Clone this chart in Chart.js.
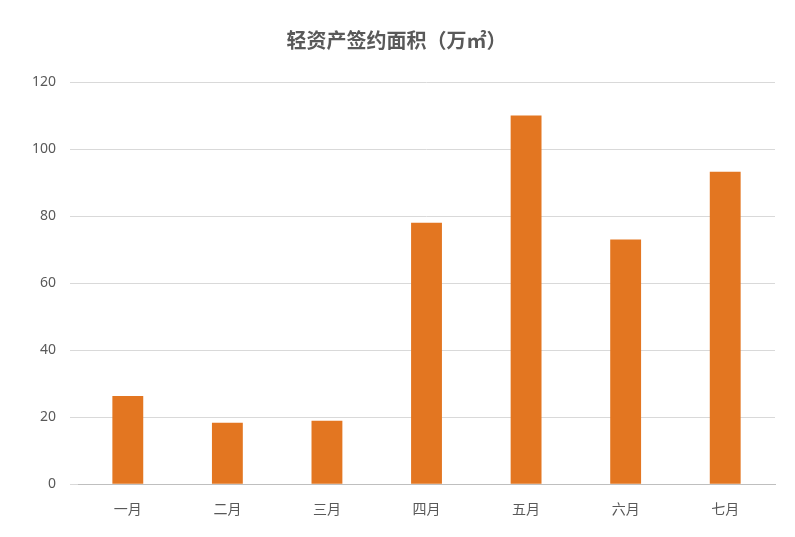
<!DOCTYPE html>
<html><head><meta charset="utf-8">
<script src="https://cdn.jsdelivr.net/npm/chart.js@4"></script>
<style>body{margin:0;background:#fff}#wrap{width:795px;height:537px}</style>
</head><body><div id="wrap"><canvas id="c"></canvas></div>
<script>
const months = ['一月', '二月', '三月', '四月', '五月', '六月', '七月'];
const areas = [26.3, 18.3, 18.9, 78, 110, 73, 93.2];
const yTicks = [0, 20, 40, 60, 80, 100, 120];

new Chart(document.getElementById('c'), {
  type: 'bar',
  data: {
    labels: months,
    datasets: [{
      data: areas,
      backgroundColor: '#E37621',
      barPercentage: 0.31,
      categoryPercentage: 1,
    }],
  },
  options: {
    responsive: true,
    maintainAspectRatio: false,
    animation: false,
    layout: { padding: { left: 18, right: 20, top: 6, bottom: 12 } },
    plugins: {
      legend: { display: false },
      tooltip: { enabled: false },
      title: {
        display: true,
        text: '轻资产签约面积（万㎡）',
        color: '#595959',
        font: { family: 'Noto Sans CJK SC', size: 20, weight: 'bold' },
        padding: { top: 22, bottom: 30 },
      },
    },
    scales: {
      x: {
        grid: { display: false },
        border: { color: '#bfbfbf' },
        ticks: { color: '#595959', font: { family: 'Noto Sans CJK SC', size: 14 }, padding: 8 },
      },
      y: {
        min: 0, max: 120,
        afterBuildTicks: (s) => { s.ticks = yTicks.map(v => ({ value: v })); },
        grid: { color: '#d9d9d9' },
        border: { display: false },
        ticks: { color: '#595959', font: { family: 'Noto Sans', size: 14 }, padding: 14 },
      },
    },
  },
});
</script></body></html>
